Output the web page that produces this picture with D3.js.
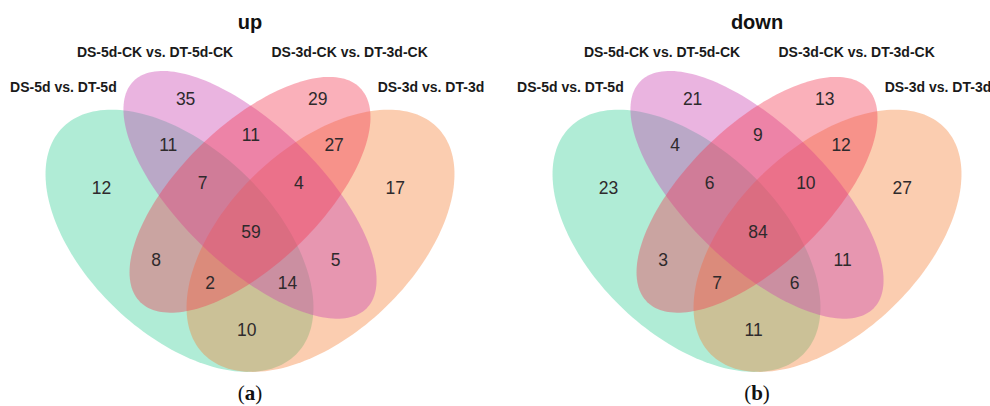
<!DOCTYPE html>
<html>
<head>
<meta charset="utf-8">
<script src="https://cdn.jsdelivr.net/npm/d3@7/dist/d3.min.js"></script>
<style>
  html, body { margin: 0; padding: 0; background: #ffffff; }
  svg { display: block; }
</style>
</head>
<body>
<svg id="chart" width="990" height="406"></svg>
<script>
// Set names (A, B, C, D)
const setNames = [
  "DS-5d vs. DT-5d",
  "DS-5d-CK vs. DT-5d-CK",
  "DS-3d-CK vs. DT-3d-CK",
  "DS-3d vs. DT-3d"
];

// Region keys, in the order the counts are listed
const regionKeys = ["A", "B", "C", "D", "AB", "BC", "CD", "ABC", "BCD", "ABCD", "AC", "BD", "ACD", "ABD", "AD"];

// Gene counts per region
const upCounts   = [12, 35, 29, 17, 11, 11, 27, 7, 4, 59, 8, 5, 2, 14, 10];
const downCounts = [23, 21, 13, 27, 4, 9, 12, 6, 10, 84, 3, 11, 7, 6, 11];

const panelTitles = ["up", "down"];
const panelTags = ["a", "b"];

// ---- layout (unit square, y up) ----
const ellipses = [
  { set: 0, cx: 0.35, cy: 0.47, a: 0.35, b: 0.20, rot: 135, fill: "#3ad099" },
  { set: 1, cx: 0.50, cy: 0.57, a: 0.35, b: 0.15, rot: 135, fill: "#cb44b2" },
  { set: 2, cx: 0.50, cy: 0.57, a: 0.33, b: 0.15, rot: 45,  fill: "#f33a53" },
  { set: 3, cx: 0.65, cy: 0.47, a: 0.35, b: 0.20, rot: 45,  fill: "#f5823a" }
];
// painting order of the translucent ellipses (bottom to top)
const drawOrder = [0, 3, 1, 2];
const fillOpacity = 0.4;

const regionPos = {
  A: [0.184, 0.585], B: [0.363, 0.778], C: [0.644, 0.778], D: [0.809, 0.585],
  AB: [0.326, 0.678], BC: [0.502, 0.700], CD: [0.679, 0.678],
  ABC: [0.399, 0.596], BCD: [0.604, 0.596], ABCD: [0.502, 0.489],
  AC: [0.300, 0.428], BD: [0.682, 0.428],
  ACD: [0.415, 0.378], ABD: [0.580, 0.378], AD: [0.493, 0.276]
};
const setLabelPos = [[0.103, 0.793], [0.298, 0.870], [0.712, 0.870], [0.885, 0.793]];

const panelCenters = [250, 757];
const unitW = 470, unitH = 460, yZero = 457;

const svg = d3.select("#chart");

function drawPanel(idx, counts) {
  const cx0 = panelCenters[idx];
  const x = d3.scaleLinear().domain([0, 1]).range([cx0 - unitW / 2, cx0 + unitW / 2]);
  const y = d3.scaleLinear().domain([0, 1]).range([yZero, yZero - unitH]);
  const g = svg.append("g").attr("class", "panel-" + panelTags[idx]);

  const line = d3.line().x(d => x(d[0])).y(d => y(d[1])).curve(d3.curveLinearClosed);
  drawOrder.map(i => ellipses[i]).forEach(e => {
    const th = e.rot * Math.PI / 180;
    const pts = d3.range(0, 360, 2).map(deg => {
      const t = deg * Math.PI / 180;
      const px = e.a * Math.cos(t), py = e.b * Math.sin(t);
      return [e.cx + px * Math.cos(th) - py * Math.sin(th),
              e.cy + px * Math.sin(th) + py * Math.cos(th)];
    });
    g.append("path").attr("d", line(pts))
      .attr("fill", e.fill).attr("fill-opacity", fillOpacity).attr("stroke", "none");
  });

  // region counts
  g.selectAll("text.count").data(regionKeys.map((k, i) => ({ k, v: counts[i] })))
    .join("text").attr("class", "count")
    .attr("x", d => x(regionPos[d.k][0]))
    .attr("y", d => y(regionPos[d.k][1]))
    .attr("dy", "0.36em")
    .attr("text-anchor", "middle")
    .attr("font-family", "Liberation Sans, Arial, sans-serif")
    .attr("font-size", 17.5)
    .attr("fill", "#2e2a2c")
    .text(d => d.v);

  // set names
  g.selectAll("text.setname").data(setNames)
    .join("text").attr("class", "setname")
    .attr("x", (d, i) => x(setLabelPos[i][0]))
    .attr("y", (d, i) => y(setLabelPos[i][1]))
    .attr("text-anchor", "middle")
    .attr("font-family", "Liberation Sans, Arial, sans-serif")
    .attr("font-weight", "bold")
    .attr("font-size", 14)
    .attr("fill", "#1a1a1a")
    .text(d => d);

  // title
  g.append("text")
    .attr("x", x(0.5)).attr("y", y(0.930))
    .attr("text-anchor", "middle")
    .attr("font-family", "Liberation Sans, Arial, sans-serif")
    .attr("font-weight", "bold")
    .attr("font-size", 20)
    .attr("fill", "#111")
    .text(panelTitles[idx]);

  // panel tag
  const tag = g.append("text")
    .attr("x", x(0.5)).attr("y", y(0.124))
    .attr("text-anchor", "middle")
    .attr("font-family", "Liberation Serif, DejaVu Serif, serif")
    .attr("font-size", 21)
    .attr("fill", "#111");
  tag.append("tspan").text("(");
  tag.append("tspan").attr("font-weight", "bold").text(panelTags[idx]);
  tag.append("tspan").text(")");
}

drawPanel(0, upCounts);
drawPanel(1, downCounts);
</script>
</body>
</html>
